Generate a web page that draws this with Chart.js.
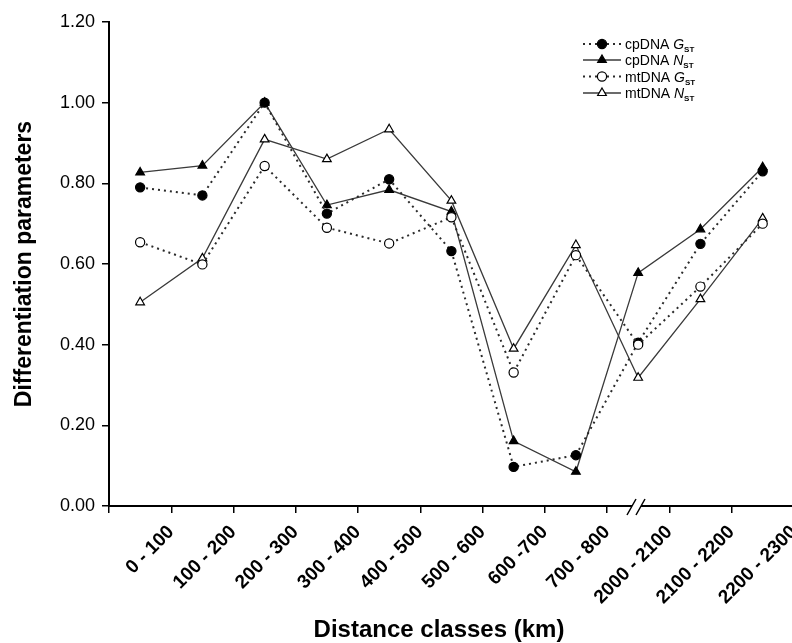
<!DOCTYPE html>
<html>
<head>
<meta charset="utf-8">
<script src="https://cdn.jsdelivr.net/npm/chart.js@4"></script>
<style>
  body { margin: 0; background: #fff; overflow: hidden; width: 792px; height: 643px; }
  #wrap { width: 800px; height: 643px; }
</style>
</head>
<body>
<div id="wrap"><canvas id="chart" width="800" height="643"></canvas></div>
<script>
// distance classes (x axis)
let classes = ["0 - 100", "100 - 200", "200 - 300", "300 - 400", "400 - 500", "500 - 600",
  "600 -700", "700 - 800", "2000 - 2100", "2100 - 2200", "2200 - 2300"];

// series
let cpGst = [0.79, 0.77, 1.00, 0.725, 0.81, 0.632, 0.097, 0.126, 0.405, 0.65, 0.83];
let cpNst = [0.827, 0.844, 1.00, 0.746, 0.784, 0.73, 0.161, 0.085, 0.578, 0.686, 0.84];
let mtGst = [0.654, 0.599, 0.843, 0.69, 0.651, 0.716, 0.331, 0.622, 0.40, 0.544, 0.70];
let mtNst = [0.505, 0.614, 0.909, 0.86, 0.934, 0.757, 0.39, 0.647, 0.318, 0.513, 0.713];

let yTicks = [0, 0.2, 0.4, 0.6, 0.8, 1.0, 1.2];

let legendNames = ["cpDNA", "cpDNA", "mtDNA", "mtDNA"];
let legendStats = ["G", "N", "G", "N"];

const FONT = "'Liberation Sans', Arial, sans-serif";

function series(label, data, style, filled, dotted, order) {
  return {
    label: label,
    data: data,
    order: order,
    borderColor: dotted ? "#2a2a2a" : "#3a3a3a",
    borderWidth: dotted ? 2 : 1.3,
    borderDash: dotted ? [2, 4] : [],
    tension: 0,
    pointStyle: style,
    pointRadius: style === "triangle" ? 5 : 4.6,
    pointBorderWidth: 1.2,
    pointBorderColor: "#000",
    pointBackgroundColor: filled ? "#000" : "#fff"
  };
}

// legend with subscripts + axis break + x title
const extras = {
  id: "extras",
  afterDraw(chart) {
    let ctx = chart.ctx;
    let ds = chart.data.datasets;
    let rows = [44, 60, 76.5, 93];
    ctx.save();
    ds.forEach((d, i) => {
      let y = rows[i];
      ctx.strokeStyle = d.borderColor;
      ctx.lineWidth = d.borderWidth;
      ctx.setLineDash(d.borderDash);
      ctx.beginPath();
      ctx.moveTo(583, y);
      ctx.lineTo(621, y);
      ctx.stroke();
      ctx.setLineDash([]);
      ctx.fillStyle = d.pointBackgroundColor;
      ctx.strokeStyle = "#000";
      ctx.lineWidth = 1.2;
      Chart.helpers.drawPoint(ctx, { pointStyle: d.pointStyle, radius: d.pointRadius, rotation: 0, borderWidth: 1.2 }, 602, y);

      ctx.fillStyle = "#000";
      ctx.textBaseline = "alphabetic";
      ctx.textAlign = "left";
      ctx.font = "14px " + FONT;
      let x = 625;
      ctx.fillText(legendNames[i], x, y + 5);
      x += ctx.measureText(legendNames[i] + " ").width;
      ctx.font = "italic 14px " + FONT;
      ctx.fillText(legendStats[i], x, y + 5);
      x += ctx.measureText(legendStats[i]).width;
      ctx.font = "bold 8px " + FONT;
      ctx.fillText("ST", x, y + 8);
    });

    // axis break
    let ay = chart.chartArea.bottom;
    ctx.fillStyle = "#fff";
    ctx.fillRect(632, ay - 3, 9, 6);
    ctx.strokeStyle = "#000";
    ctx.lineWidth = 1.5;
    ctx.beginPath();
    ctx.moveTo(627, ay + 9); ctx.lineTo(636, ay - 7);
    ctx.moveTo(636, ay + 9); ctx.lineTo(645, ay - 7);
    ctx.stroke();

    // x axis title
    ctx.fillStyle = "#000";
    ctx.font = "bold 24px " + FONT;
    ctx.textAlign = "center";
    ctx.fillText("Distance classes (km)", 439, 637);
    ctx.restore();
  }
};

let chart = new Chart(document.getElementById("chart"), {
  type: "line",
  data: {
    labels: classes,
    datasets: [
      series("cpDNA GST", cpGst, "circle", true, true, 1),
      series("cpDNA NST", cpNst, "triangle", true, false, 3),
      series("mtDNA GST", mtGst, "circle", false, true, 0),
      series("mtDNA NST", mtNst, "triangle", false, false, 2)
    ]
  },
  options: {
    responsive: false,
    animation: false,
    layout: { padding: { top: 22, right: 3.5, left: 0, bottom: 0 } },
    plugins: { legend: { display: false }, tooltip: { enabled: false } },
    scales: {
      x: {
        offset: true,
        grid: { offset: true, drawOnChartArea: false, drawTicks: true, tickLength: 7, color: "#000", lineWidth: 1.5 },
        border: { display: true, color: "#000", width: 2 },
        ticks: {
          autoSkip: false, minRotation: 45, maxRotation: 45, labelOffset: 31, padding: 8,
          color: "#000", font: { family: FONT, size: 19, weight: "bold" }
        },
        afterFit(scale) { scale.height = 137; scale.paddingLeft = 0; scale.paddingRight = 0; }
      },
      y: {
        min: 0, max: 1.2,
        afterBuildTicks(scale) { scale.ticks = yTicks.map(v => ({ value: v })); },
        grid: { drawOnChartArea: false, drawTicks: true, tickLength: 7, color: "#000", lineWidth: 1.5 },
        border: { display: true, color: "#000", width: 2 },
        ticks: {
          padding: 7, color: "#000", font: { family: FONT, size: 18 },
          callback: v => v.toFixed(2)
        },
        title: {
          display: true, text: "Differentiation parameters", color: "#000",
          font: { family: FONT, size: 23, weight: "bold" }, padding: { top: 11, bottom: 0 }
        },
        afterFit(scale) { scale.width = 109; scale.paddingTop = 0; scale.paddingBottom = 0; }
      }
    }
  },
  plugins: [extras]
});
</script>
</body>
</html>
